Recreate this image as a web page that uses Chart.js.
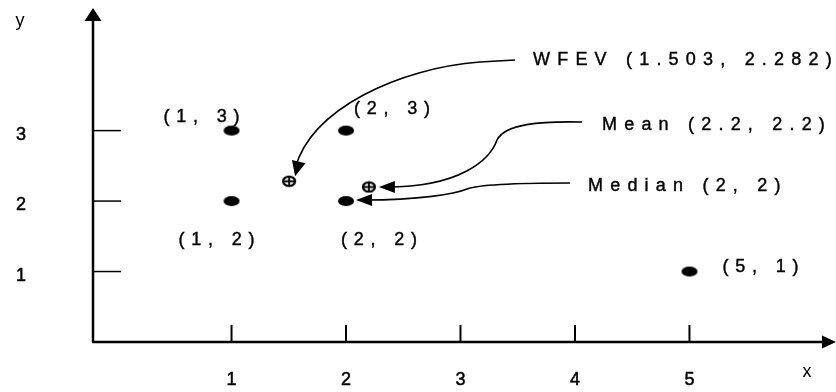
<!DOCTYPE html>
<html>
<head>
<meta charset="utf-8">
<script src="https://cdn.jsdelivr.net/npm/chart.js@4.4.1/dist/chart.umd.min.js"></script>
<style>
  html, body { margin: 0; padding: 0; background: #fff; }
  #wrap { width: 836px; height: 392px; position: relative; }
</style>
</head>
<body>
<div id="wrap"><canvas id="chart"></canvas></div>
<script>
// values
const xTicks = [1, 2, 3, 4, 5];
const yTicks = [1, 2, 3];
const sampleX = [1, 2, 1, 2, 5];
const sampleY = [3, 3, 2, 2, 1];
const sampleLabels = ['(1, 3)', '(2, 3)', '(1, 2)', '(2, 2)', '(5, 1)'];
const wfevPoint = [1.503, 2.282];
const meanPoint = [2.2, 2.2];
const medianPoint = [2, 2];
const wfevText = 'WFEV (1.503, 2.282)';
const meanText = 'Mean (2.2, 2.2)';
const medianText = 'Median (2, 2)';

const FONT = '"Liberation Sans", Arial, sans-serif';

// label offsets from each sample point (px), and alignment
const labelOffsets = [[-30, -14, 'c'], [46, -22, 'c'], [-15, 39, 'c'], [33, 39, 'c'], [33, -5, 'l']];

function makeDot() {
  const c = document.createElement('canvas');
  c.width = 18; c.height = 12;
  const g = c.getContext('2d');
  g.fillStyle = '#000';
  g.beginPath(); g.ellipse(9, 6, 8, 5, 0, 0, Math.PI * 2); g.fill();
  return c;
}

function makeCross() {
  const c = document.createElement('canvas');
  c.width = 16; c.height = 13;
  const g = c.getContext('2d');
  g.fillStyle = '#fff';
  g.strokeStyle = '#000';
  g.lineWidth = 2.2;
  g.beginPath(); g.ellipse(8, 6.5, 6, 4.6, 0, 0, Math.PI * 2); g.fill(); g.stroke();
  g.lineWidth = 1.8;
  g.beginPath();
  g.moveTo(8, 2); g.lineTo(8, 11);
  g.moveTo(2.5, 6.5); g.lineTo(13.5, 6.5);
  g.stroke();
  return c;
}

function spacedText(ctx, text, x, y, spacing, align) {
  let w = 0;
  for (const ch of text) w += ctx.measureText(ch).width + spacing;
  w -= spacing;
  let cx = align === 'c' ? x - w / 2 : x;
  for (const ch of text) {
    ctx.fillText(ch, cx, y);
    ctx.strokeText(ch, cx, y);
    cx += ctx.measureText(ch).width + spacing;
  }
}

function head(ctx, tx, ty, dx, dy, len, half) {
  const n = Math.hypot(dx, dy);
  dx /= n; dy /= n;
  const bx = tx - dx * len, by = ty - dy * len;
  ctx.beginPath();
  ctx.moveTo(tx, ty);
  ctx.lineTo(bx - dy * half, by + dx * half);
  ctx.lineTo(bx + dy * half, by - dx * half);
  ctx.closePath();
  ctx.fill();
}

const decor = {
  id: 'decor',
  afterDraw(chart) {
    const { ctx, chartArea: a, scales: { x, y } } = chart;
    ctx.save();
    ctx.strokeStyle = '#000';
    ctx.fillStyle = '#000';

    // axes with arrows
    ctx.lineWidth = 2.5;
    ctx.beginPath();
    ctx.moveTo(a.left, a.bottom); ctx.lineTo(a.left, a.top + 12);
    ctx.moveTo(a.left - 1, a.bottom); ctx.lineTo(a.right - 13, a.bottom);
    ctx.stroke();
    head(ctx, a.left, a.top, 0, -1, 13, 8.5);
    head(ctx, a.right, a.bottom, 1, 0, 14, 6.5);

    // tick marks drawn inward
    ctx.lineWidth = 1.5;
    yTicks.forEach(v => {
      const py = y.getPixelForValue(v);
      ctx.beginPath(); ctx.moveTo(a.left, py); ctx.lineTo(a.left + 28, py); ctx.stroke();
    });
    ctx.lineWidth = 2;
    xTicks.forEach(v => {
      const px = x.getPixelForValue(v);
      ctx.beginPath(); ctx.moveTo(px, a.bottom); ctx.lineTo(px, a.bottom - 17); ctx.stroke();
    });

    // tick labels and axis names
    ctx.lineWidth = 0.5;
    ctx.font = '18px ' + FONT;
    ctx.textBaseline = 'middle';
    ctx.textAlign = 'center';
    yTicks.forEach(v => {
      ctx.fillText(String(v), 21, y.getPixelForValue(v) + 4);
      ctx.strokeText(String(v), 21, y.getPixelForValue(v) + 4);
    });
    xTicks.forEach(v => {
      ctx.fillText(String(v), x.getPixelForValue(v), 380);
      ctx.strokeText(String(v), x.getPixelForValue(v), 380);
    });
    ctx.fillText('y', 20, 21);
    ctx.fillText('x', 807, 372);
    ctx.textAlign = 'left';

    // point labels
    ctx.lineWidth = 0.4;
    ctx.font = '18px ' + FONT;
    sampleX.forEach((vx, i) => {
      const [ox, oy, al] = labelOffsets[i];
      spacedText(ctx, sampleLabels[i], x.getPixelForValue(vx) + ox, y.getPixelForValue(sampleY[i]) + oy, 6.8, al);
    });

    // callout texts
    spacedText(ctx, wfevText, 533, 60, 7.2, 'l');
    spacedText(ctx, meanText, 602, 125, 7.2, 'l');
    spacedText(ctx, medianText, 588, 186, 7.2, 'l');

    ctx.lineWidth = 1.6;
    // WFEV arrow
    let t = { x: x.getPixelForValue(wfevPoint[0]) + 6, y: y.getPixelForValue(wfevPoint[1]) - 5 };
    ctx.beginPath();
    ctx.moveTo(515, 60); ctx.lineTo(480, 62);
    ctx.bezierCurveTo(400, 68, 312, 108, t.x, t.y - 8);
    ctx.stroke();
    head(ctx, t.x, t.y, t.x - 312, t.y - 108, 15, 7);

    // Mean arrow
    t = { x: x.getPixelForValue(meanPoint[0]) + 10, y: y.getPixelForValue(meanPoint[1]) };
    ctx.beginPath();
    ctx.moveTo(582, 122);
    ctx.bezierCurveTo(540, 121, 505, 124, 497, 140);
    ctx.bezierCurveTo(490, 160, 460, t.y, t.x + 8, t.y);
    ctx.stroke();
    head(ctx, t.x, t.y, -1, 0, 16, 6);

    // Median arrow
    t = { x: x.getPixelForValue(medianPoint[0]) + 10, y: y.getPixelForValue(medianPoint[1]) - 1 };
    ctx.beginPath();
    ctx.moveTo(570, 183);
    ctx.bezierCurveTo(520, 183, 480, 184, 467, 189);
    ctx.bezierCurveTo(455, 194, 420, t.y, t.x + 8, t.y);
    ctx.stroke();
    head(ctx, t.x, t.y, -1, 0, 16, 6);

    ctx.restore();
  }
};

const dot = makeDot();
const cross = makeCross();

new Chart(document.getElementById('chart'), {
  type: 'scatter',
  data: {
    datasets: [
      {
        label: 'samples',
        data: sampleX.map((v, i) => ({ x: v, y: sampleY[i] })),
        pointStyle: dot,
        clip: false
      },
      {
        label: 'WFEV',
        data: [{ x: wfevPoint[0], y: wfevPoint[1] }],
        pointStyle: cross,
        clip: false
      },
      {
        label: 'Mean',
        data: [{ x: meanPoint[0], y: meanPoint[1] }],
        pointStyle: cross,
        clip: false
      }
    ]
  },
  options: {
    responsive: true,
    maintainAspectRatio: false,
    animation: false,
    layout: { autoPadding: false, padding: { top: 8, left: 93, right: 0, bottom: 50 } },
    plugins: { legend: { display: false }, tooltip: { enabled: false } },
    scales: {
      x: { type: 'linear', display: false, min: -0.21, max: 6.28 },
      y: { type: 'linear', display: false, min: 0, max: 4.74 }
    }
  },
  plugins: [decor]
});
</script>
</body>
</html>
